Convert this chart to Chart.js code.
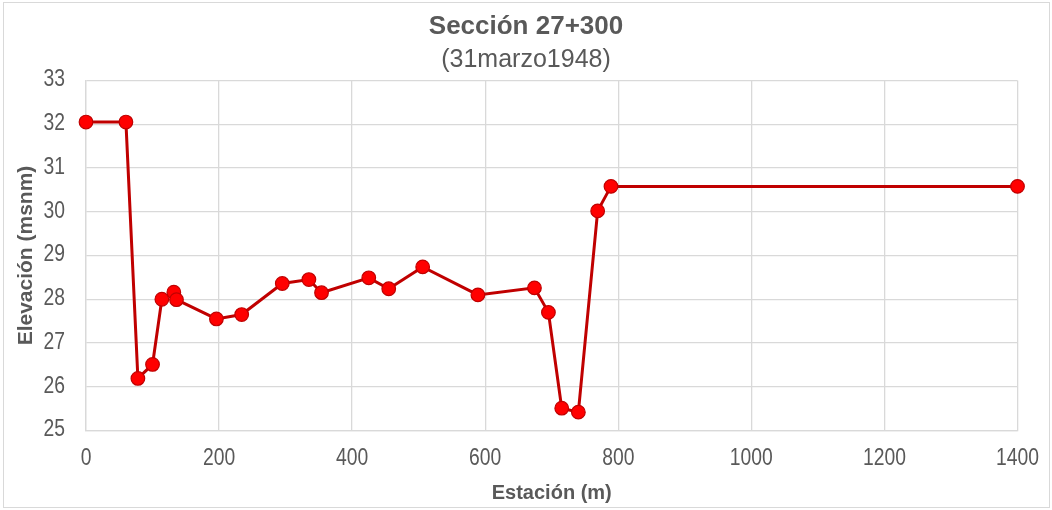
<!DOCTYPE html>
<html>
<head>
<meta charset="utf-8">
<script src="https://cdn.jsdelivr.net/npm/chart.js@4.4.1/dist/chart.umd.min.js"></script>
<style>
  html, body { margin: 0; padding: 0; background: #ffffff; }
  #wrap { position: relative; width: 1052px; height: 510px; }
</style>
</head>
<body>
<div id="wrap"><canvas id="chart" width="1052" height="510"></canvas></div>
<script>
// Cross-section survey: station (m) vs. elevation (m above sea level)
const estaciones = [0, 60, 78, 100, 114, 132, 136, 196, 234, 295, 335, 354, 425, 455, 506, 589, 674, 695, 715, 740, 769, 789, 1400];
const elevaciones = [32.05, 32.05, 26.19, 26.51, 28.0, 28.16, 27.99, 27.55, 27.65, 28.36, 28.45, 28.15, 28.49, 28.24, 28.74, 28.1, 28.26, 27.7, 25.51, 25.42, 30.02, 30.58, 30.58];
const xTicks = [0, 200, 400, 600, 800, 1000, 1200, 1400];
const yTicks = [25, 26, 27, 28, 29, 30, 31, 32, 33];

const tituloTexto = 'Sección 27+300';
const subtituloTexto = '(31marzo1948)';
const ejeX = 'Estación (m)';
const ejeY = 'Elevación (msnm)';

const gris = '#595959';
const rejilla = '#d9d9d9';
const familia = '"Liberation Sans", Arial, sans-serif';

const puntos = estaciones.map((x, i) => ({ x: x, y: elevaciones[i] }));

// white background and thin outer frame
const marco = {
  id: 'marco',
  beforeDraw(chart) {
    const ctx = chart.ctx;
    ctx.save();
    ctx.fillStyle = '#ffffff';
    ctx.fillRect(0, 0, chart.width, chart.height);
    ctx.strokeStyle = rejilla;
    ctx.lineWidth = 1;
    ctx.strokeRect(3.5, 2.5, 1046, 505);
    ctx.restore();
  }
};

// tick labels in a narrow face: regular glyphs squeezed horizontally
const ticksEstrechos = {
  id: 'ticksEstrechos',
  afterDraw(chart) {
    const ctx = chart.ctx;
    const sx = chart.scales.x, sy = chart.scales.y;
    const area = chart.chartArea;
    ctx.save();
    ctx.fillStyle = gris;
    ctx.font = '23px ' + familia;
    ctx.textBaseline = 'middle';
    const escala = 0.84;
    xTicks.forEach(v => {
      ctx.save();
      ctx.translate(sx.getPixelForValue(v), area.bottom + 28.5);
      ctx.scale(escala, 1);
      ctx.textAlign = 'center';
      ctx.fillText(String(v), 0, 0);
      ctx.restore();
    });
    yTicks.forEach(v => {
      ctx.save();
      ctx.translate(area.left - 21, sy.getPixelForValue(v) - 0.5);
      ctx.scale(escala, 1);
      ctx.textAlign = 'right';
      ctx.fillText(String(v), 0, 0);
      ctx.restore();
    });
    ctx.restore();
  }
};

new Chart(document.getElementById('chart'), {
  type: 'line',
  data: {
    datasets: [{
      data: puntos,
      borderColor: '#c00000',
      borderWidth: 3,
      backgroundColor: '#ff0000',
      pointBackgroundColor: '#ff0000',
      pointBorderColor: '#c00000',
      pointBorderWidth: 1.2,
      pointRadius: 6.8,
      tension: 0,
      clip: false
    }]
  },
  options: {
    responsive: false,
    animation: false,
    layout: { padding: 0 },
    plugins: {
      legend: { display: false },
      tooltip: { enabled: false },
      title: {
        display: true,
        text: tituloTexto,
        color: gris,
        font: { family: familia, size: 26, weight: 'bold', lineHeight: 1.2 },
        padding: { top: 11.4, bottom: 0 }
      },
      subtitle: {
        display: true,
        text: subtituloTexto,
        color: gris,
        font: { family: familia, size: 25, weight: 'normal', lineHeight: 1.2 },
        padding: { top: 2.4, bottom: 5.5 }
      }
    },
    scales: {
      x: {
        type: 'linear',
        min: 0,
        max: 1400,
        afterBuildTicks(scale) { scale.ticks = xTicks.map(v => ({ value: v })); },
        afterFit(scale) { scale.height = 79.5; },
        grid: { color: rejilla, lineWidth: 1.3, drawTicks: false },
        border: { color: rejilla, width: 1.3 },
        ticks: { display: false },
        title: {
          display: true,
          text: ejeX,
          color: gris,
          font: { family: familia, size: 20, weight: 'bold', lineHeight: 1.2 },
          padding: { top: 0, bottom: 5 }
        }
      },
      y: {
        type: 'linear',
        min: 25,
        max: 33,
        afterBuildTicks(scale) { scale.ticks = yTicks.map(v => ({ value: v })); },
        afterFit(scale) { scale.width = 86; },
        grid: { color: rejilla, lineWidth: 1.3, drawTicks: false },
        border: { color: rejilla, width: 1.3 },
        ticks: { display: false },
        title: {
          display: true,
          text: ejeY,
          color: gris,
          font: { family: familia, size: 21, weight: 'bold', lineHeight: 1.2 },
          padding: { top: 14, bottom: 0 }
        }
      },
      // empty right-hand margin so the titles stay centred on the canvas
      margen: {
        type: 'linear',
        position: 'right',
        display: true,
        afterFit(scale) { scale.width = 34.5; },
        grid: { display: false, drawTicks: false },
        border: { display: false },
        ticks: { display: false }
      }
    }
  },
  plugins: [marco, ticksEstrechos]
});
</script>
</body>
</html>
